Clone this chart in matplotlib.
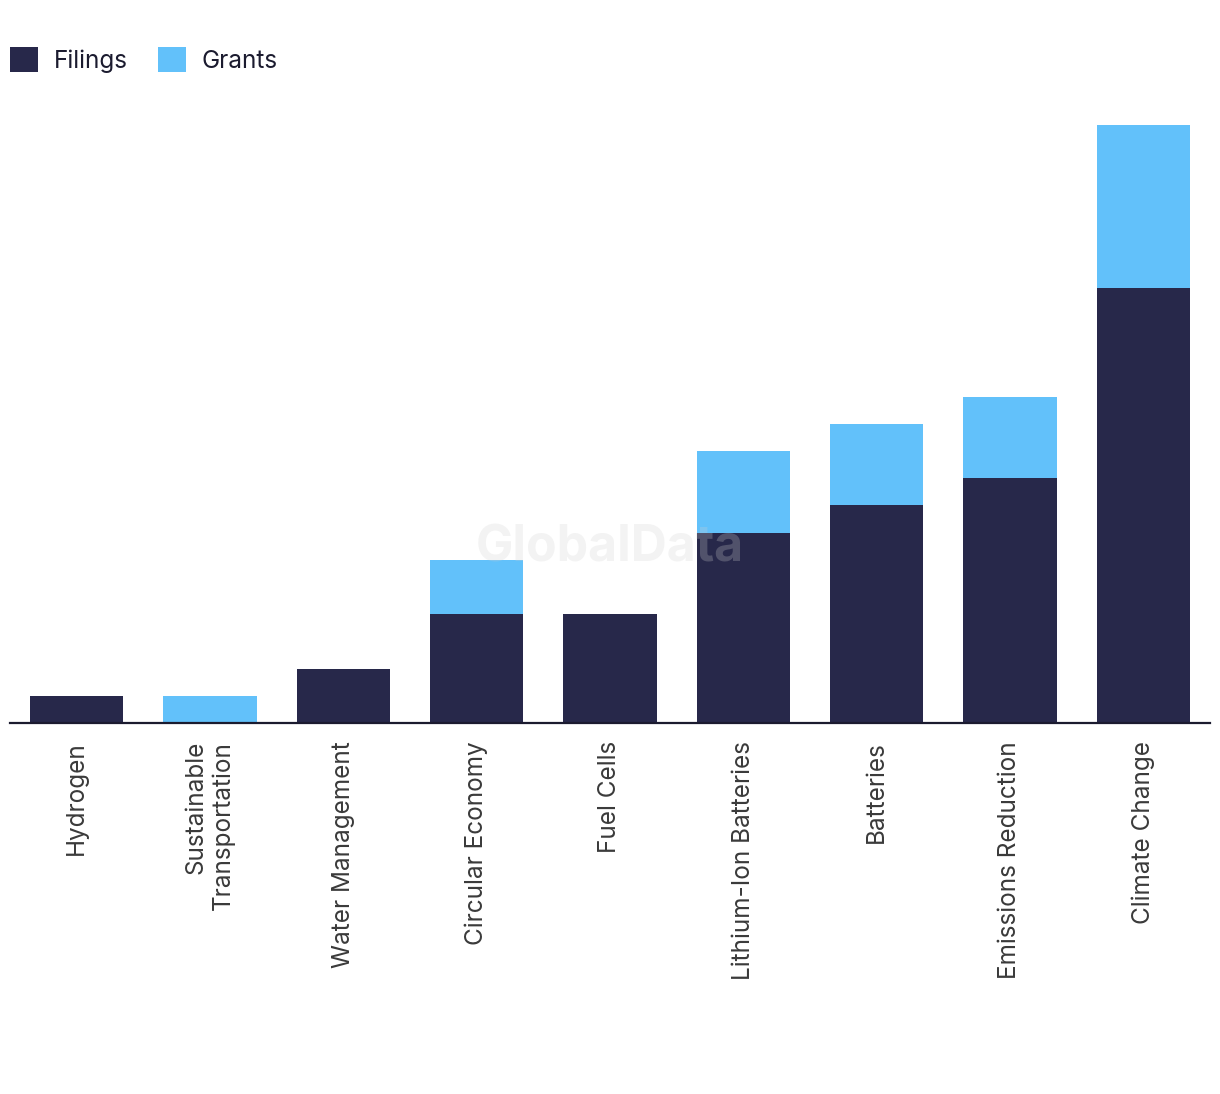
import matplotlib
matplotlib.use("Agg")
import matplotlib.pyplot as plt
import numpy as np

NAVY = "#27284a"
SKY = "#62c1fa"
INK = "#1b1b2f"
LABEL = "#3a3a3a"

categories = ["Hydrogen", "Sustainable\nTransportation", "Water Management",
              "Circular Economy", "Fuel Cells", "Lithium-Ion Batteries",
              "Batteries", "Emissions Reduction", "Climate Change"]
filings = [1, 0, 2, 4, 4, 7, 8, 9, 16]
grants = [0, 1, 0, 2, 0, 3, 3, 3, 6]

plt.rcParams["font.family"] = ["Inter", "DejaVu Sans"]

W, H = 1220, 1094
fig = plt.figure(figsize=(W / 100, H / 100), dpi=100)
ax = fig.add_axes([10 / W, 1 - 723 / H, 1200 / W, (723 - 100) / H])

x = np.arange(len(categories))
ax.bar(x, filings, width=0.7, color=NAVY, label="Filings")
ax.bar(x, grants, width=0.7, bottom=filings, color=SKY, label="Grants")

ax.set_xlim(-0.5, len(categories) - 0.5)
ax.set_ylim(0, (723 - 100) / 27.2)
for s in ("top", "right", "left"):
    ax.spines[s].set_visible(False)
ax.spines["bottom"].set_color(INK)
ax.spines["bottom"].set_linewidth(1.6)
ax.set_yticks([])
ax.set_xticks(x)
ax.set_xticklabels(categories, rotation=90, ha="center", va="top",
                   multialignment="right", fontsize=17.5, color=LABEL)
ax.tick_params(axis="x", length=0, pad=13)

# watermark
fig.text(610 / W, 1 - 548 / H, "GlobalData", ha="center", va="center",
         fontsize=36, fontweight="bold", color="#d0d0d0", alpha=0.25)

fig.legend(loc="center left", bbox_to_anchor=(10 / W, 1 - 60 / H), ncol=2,
           frameon=False, fontsize=17.5, handlelength=1.15, handleheight=1.2,
           handletextpad=0.65, columnspacing=1.25, borderaxespad=0, borderpad=0,
           labelcolor=INK)

fig.savefig("out.png", dpi=100, facecolor="white")
